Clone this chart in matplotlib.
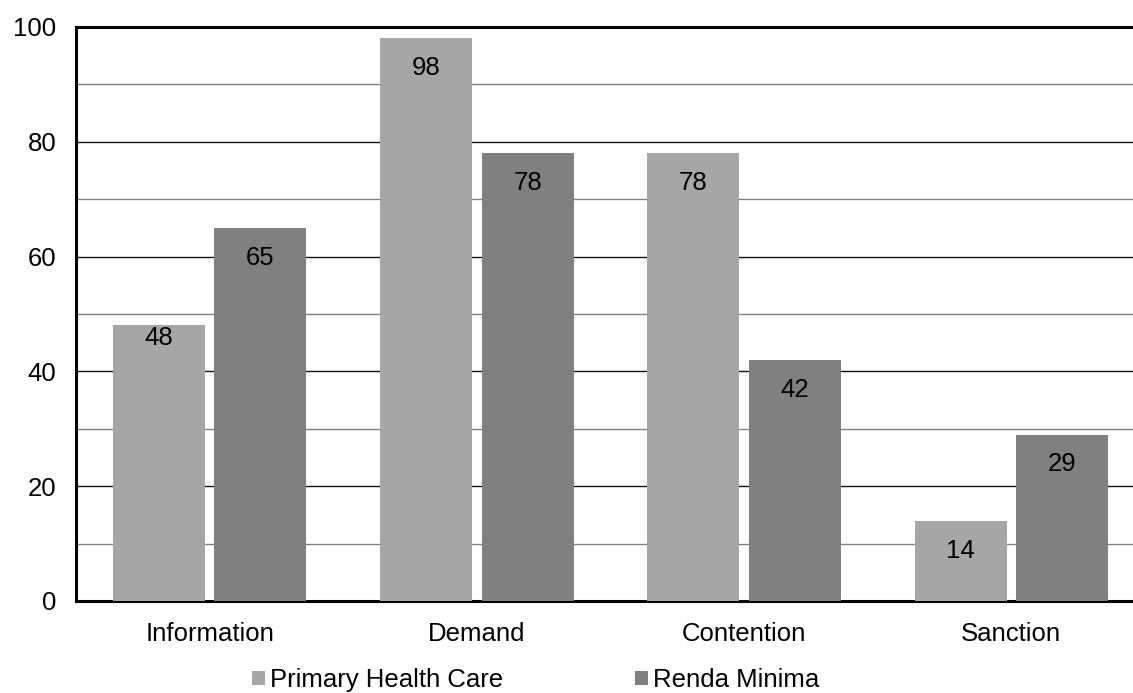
import matplotlib
matplotlib.use("Agg")
import matplotlib.pyplot as plt
import numpy as np

plt.rcParams['font.family'] = ['Liberation Sans', 'DejaVu Sans']

categories = ["Information", "Demand", "Contention", "Sanction"]
series_names = ["Primary Health Care", "Renda Minima"]
primary_health_care = [48, 98, 78, 14]
renda_minima = [65, 78, 42, 29]
colors = ["#A6A6A6", "#808080"]

# vertical offset (points) of each value label below its bar top
label_drop = [[9, 21.5, 21.5, 21.5], [21.5, 21.5, 21.5, 21.5]]

FS = 18.5

fig = plt.figure(figsize=(11.33, 6.93), dpi=100)
# plot area runs slightly past the right edge of the canvas
ax = fig.add_axes([76 / 1133, 1 - 601 / 693, 1069 / 1133, (601 - 27) / 693])

x = np.arange(len(categories))
width = 0.344
offset = 0.19

bars = []
for vals, off, col, name, drops in zip([primary_health_care, renda_minima], [-offset, offset],
                                       colors, series_names, label_drop):
    b = ax.bar(x + off, vals, width, color=col, label=name, zorder=3)
    bars.append(b)
    for rect, v, d in zip(b, vals, drops):
        ax.annotate(str(v), (rect.get_x() + rect.get_width() / 2, v),
                    xytext=(0, -d), textcoords="offset points",
                    ha="center", va="center", fontsize=FS, color="black", zorder=4)

ax.set_xlim(-0.5, len(categories) - 0.5)
ax.set_ylim(0, 100)
ax.set_yticks(np.arange(0, 101, 20))
ax.set_yticks(np.arange(10, 100, 20), minor=True)
ax.set_xticks(x)
ax.set_xticklabels(categories)
ax.tick_params(axis="both", which="both", length=0, labelsize=FS)
ax.tick_params(axis="y", pad=14)
ax.tick_params(axis="x", pad=15)
ax.grid(axis="y", which="major", color="#111111", linewidth=1.0, zorder=0)
ax.grid(axis="y", which="minor", color="#808080", linewidth=1.0, zorder=0)

for side in ["left", "top", "bottom"]:
    ax.spines[side].set_linewidth(2.2)
    ax.spines[side].set_color("black")
ax.spines["right"].set_visible(False)

fig.legend(handles=bars, labels=series_names, loc="center",
           bbox_to_anchor=(0.473, 1 - 680 / 693), ncol=2, frameon=False,
           fontsize=FS, handlelength=0.5, handleheight=0.5, handletextpad=0.2,
           columnspacing=5.13, borderpad=0, borderaxespad=0)

fig.savefig("out.png", dpi=100)
